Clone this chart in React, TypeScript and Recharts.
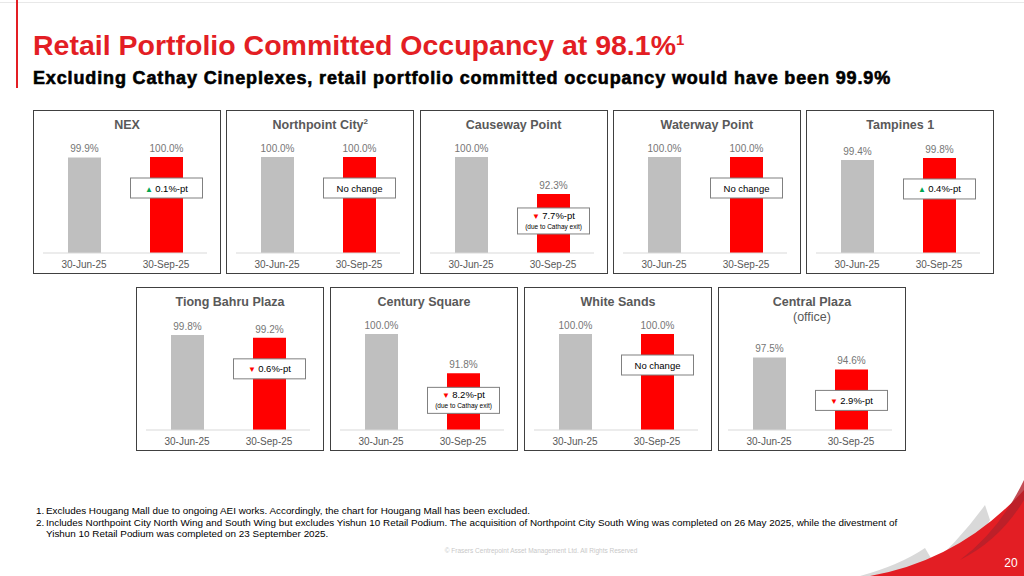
import { Bar, BarChart, Cell, LabelList, XAxis, YAxis } from "recharts";

const mallNames = [
  "NEX",
  "Northpoint City",
  "Causeway Point",
  "Waterway Point",
  "Tampines 1",
  "Tiong Bahru Plaza",
  "Century Square",
  "White Sands",
  "Central Plaza",
];
const titleNotes = ["", "2", "", "", "", "", "", "", ""];
const titleSubs = ["", "", "", "", "", "", "", "", "(office)"];
const periodLabels = ["30-Jun-25", "30-Sep-25"];
const juneValues = [99.9, 100.0, 100.0, 100.0, 99.4, 99.8, 100.0, 100.0, 97.5];
const septValues = [100.0, 100.0, 92.3, 100.0, 99.8, 99.2, 91.8, 100.0, 94.6];
const changeLabels = [
  "0.1%-pt",
  "No change",
  "7.7%-pt",
  "No change",
  "0.4%-pt",
  "0.6%-pt",
  "8.2%-pt",
  "No change",
  "2.9%-pt",
];
const changeDirections = ["up", "none", "down", "none", "up", "down", "down", "none", "down"];
const changeNotes = ["", "", "(due to Cathay exit)", "", "", "", "(due to Cathay exit)", "", ""];

const footnotes = [
  "Excludes Hougang Mall due to ongoing AEI works. Accordingly, the chart for Hougang Mall has been excluded.",
  "Includes Northpoint City North Wing and South Wing but excludes Yishun 10 Retail Podium. The acquisition of Northpoint City South Wing was completed on 26 May 2025, while the divestment of Yishun 10 Retail Podium was completed on 23 September 2025.",
];

const FONT = "'Liberation Sans', Arial, sans-serif";
const PANEL_W = 188;
const PANEL_H = 164;

function ChangeBox({ x, y, width, idx }: any) {
  const note = changeNotes[idx];
  const dir = changeDirections[idx];
  const h = note ? 26 : 20;
  const cx = x + width / 2;
  const cy = y + (note ? 27 : 31);
  const arrow = dir === "up" ? "▲ " : dir === "down" ? "▼ " : "";
  const arrowColor = dir === "up" ? "#00A651" : "#FF0000";
  return (
    <g>
      <rect x={cx - 36} y={cy - h / 2} width={72} height={h} fill="#fff" stroke="#808080" strokeWidth={1} />
      <text
        x={cx}
        y={note ? cy - 2 : cy + 3.5}
        textAnchor="middle"
        fontSize={9.5}
        fill="#000"
        fontFamily={FONT}
      >
        {arrow && (
          <tspan fill={arrowColor} fontSize={8}>
            {arrow}
          </tspan>
        )}
        <tspan>{changeLabels[idx]}</tspan>
      </text>
      {note && (
        <text x={cx} y={cy + 8} textAnchor="middle" fontSize={6.5} fill="#000" fontFamily={FONT}>
          {note}
        </text>
      )}
    </g>
  );
}

function Panel({ idx, left, top }: { idx: number; left: number; top: number }) {
  const data = periodLabels.map((p, i) => ({
    period: p,
    value: i === 0 ? juneValues[idx] : septValues[idx],
  }));
  const hasSub = titleSubs[idx] !== "";
  return (
    <div
      style={{
        position: "absolute",
        left,
        top,
        width: PANEL_W,
        height: PANEL_H,
        border: "1px solid #404040",
        boxSizing: "border-box",
        background: "#fff",
      }}
    >
      <div
        style={{
          position: "absolute",
          top: 7,
          width: "100%",
          textAlign: "center",
          fontFamily: FONT,
          fontWeight: "bold",
          fontSize: 12.5,
          color: "#595959",
          lineHeight: "15px",
        }}
      >
        {mallNames[idx]}
        {titleNotes[idx] && <sup style={{ fontSize: 8, lineHeight: 0 }}>{titleNotes[idx]}</sup>}
        {hasSub && <div style={{ fontWeight: "normal", fontSize: 12.5 }}>{titleSubs[idx]}</div>}
      </div>
      <div style={{ position: "absolute", left: -1, top: -1 }}>
        <BarChart
          width={PANEL_W}
          height={PANEL_H}
          data={data}
          margin={{ top: hasSub ? 60 : 47, right: 14, bottom: 0, left: 10 }}
          barSize={33}
        >
          <XAxis
            dataKey="period"
            height={21}
            tickLine={false}
            axisLine={{ stroke: "#D9D9D9" }}
            tick={{ fill: "#595959", fontSize: 10, fontFamily: FONT }}
            interval={0}
          />
          <YAxis hide domain={[80, 100]} />
          <Bar dataKey="value" isAnimationActive={false}>
            {data.map((_, i) => (
              <Cell key={i} fill={i === 0 ? "#BFBFBF" : "#FF0000"} />
            ))}
            <LabelList
              dataKey="value"
              position="top"
              offset={5}
              formatter={(v: any) => `${Number(v).toFixed(1)}%`}
              style={{ fill: "#767676", fontSize: 10, fontFamily: FONT }}
            />
            <LabelList
              dataKey="value"
              content={(props: any) =>
                props.index === 1 ? <ChangeBox {...props} idx={idx} /> : null
              }
            />
          </Bar>
        </BarChart>
      </div>
    </div>
  );
}

export default function App() {
  const topRow = [0, 1, 2, 3, 4];
  const bottomRow = [5, 6, 7, 8];
  return (
    <div
      style={{
        position: "absolute",
        left: 0,
        top: 0,
        width: 1024,
        height: 576,
        overflow: "hidden",
        background: "#fff",
        fontFamily: FONT,
      }}
    >
      <div style={{ position: "absolute", left: 0, top: 2, width: 1024, height: 1, background: "#E8E8E8" }} />
      <div style={{ position: "absolute", left: 16, top: 0, width: 2, height: 88, background: "#E31E24" }} />
      <div
        style={{
          position: "absolute",
          left: 33,
          top: 28,
          fontSize: 28.5,
          fontWeight: "bold",
          color: "#E31E24",
          whiteSpace: "nowrap",
          lineHeight: "34px",
        }}
      >
        Retail Portfolio Committed Occupancy at 98.1%
        <sup style={{ fontSize: 15, lineHeight: 0 }}>1</sup>
      </div>
      <div
        style={{
          position: "absolute",
          left: 33,
          top: 68,
          fontSize: 18,
          fontWeight: "bold",
          letterSpacing: 0.86,
          WebkitTextStroke: "0.6px #000",
          color: "#000",
          whiteSpace: "nowrap",
          lineHeight: "20px",
        }}
      >
        Excluding Cathay Cineplexes, retail portfolio committed occupancy would have been 99.9%
      </div>

      {topRow.map((idx, i) => (
        <Panel key={idx} idx={idx} left={33 + i * 193.3} top={110} />
      ))}
      {bottomRow.map((idx, i) => (
        <Panel key={idx} idx={idx} left={136 + i * 194} top={287} />
      ))}

      <div style={{ position: "absolute", left: 36, top: 505, width: 880, fontSize: 9.9, color: "#000", lineHeight: "11.5px" }}>
        {footnotes.map((f, i) => (
          <div key={i} style={{ display: "flex" }}>
            <span style={{ width: 10, flexShrink: 0 }}>{i + 1}.</span>
            <span>{f}</span>
          </div>
        ))}
      </div>
      <div
        style={{
          position: "absolute",
          left: 0,
          width: 1082,
          top: 547,
          textAlign: "center",
          fontSize: 6.5,
          color: "#C8C8C8",
        }}
      >
        © Frasers Centrepoint Asset Management Ltd. All Rights Reserved
      </div>

      <svg style={{ position: "absolute", left: 0, top: 0 }} width={1024} height={576}>
        <path d="M 920 576 Q 960 540 985 505 L 990 520 Q 975 550 950 576 Z" fill="#D9D9D9" />
        <path d="M 860 576 Q 900 565 925 548 L 935 565 Q 910 572 890 576 Z" fill="#D9D9D9" />
        <path d="M 870 576 Q 960 560 1024 490 L 1024 576 Z" fill="#E31E24" />
        <path d="M 960 560 Q 1000 530 1024 480 L 1024 500 Q 1000 540 960 560 Z" fill="#B3202A" opacity={0.8} />
        <text x={1011} y={567} textAnchor="middle" fontSize={12} fill="#fff" fontFamily={FONT}>
          20
        </text>
      </svg>
    </div>
  );
}
